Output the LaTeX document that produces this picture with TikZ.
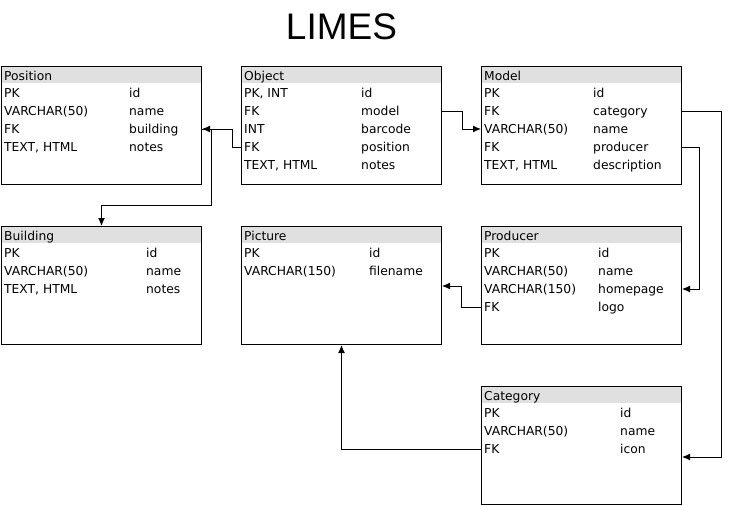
\documentclass[tikz,border=0pt]{standalone}
\usepackage{fontspec}
\setmainfont{DejaVu Sans}
\newfontfamily\titlefont{Liberation Sans}
\usetikzlibrary{arrows.meta,calc}

\tikzset{
    tablebox/.style={draw, line width=1pt, minimum width=200pt, minimum height=118pt, inner sep=0pt, anchor=north west},
    headfill/.style={fill=black!12},
    cell/.style={anchor=west, inner sep=0pt, text height=9pt, text depth=0pt, font=\fontsize{12.3}{14}\selectfont},
    fk/.style={-{Latex[length=8pt,width=7pt]}, line width=1pt},
}

% name, x, y, title, offset of second column, rows
\newcommand{\dbtable}[6]{%
    \fill[headfill] (#2,#3) rectangle ++(200,17);
    \node[tablebox] (#1) at (#2,#3) {};
    \node[cell] (#1-0) at ([xshift=3pt,yshift=-9.5pt]#1.north west) {#4};
    \foreach \ty/\fn [count=\i] in {#6} {
        \node[cell] (#1-\i) at ([xshift=3pt,yshift={-9pt-18pt*\i}]#1.north west) {\ty};
        \node[cell] (#1-\i-f) at ([xshift=#5pt,yshift={-9pt-18pt*\i}]#1.north west) {\fn};
    }
}

\begin{document}
\begin{tikzpicture}[x=1pt,y=-1pt]
    \useasboundingbox (0,0) rectangle (729,506);
    \node[font=\titlefont\fontsize{37}{40}\selectfont] (title) at (341.5,27) {LIMES};

    \dbtable{pos}{1}{66}{Position}{128}{PK/id, VARCHAR(50)/name, FK/building, {TEXT, HTML}/notes}
    \dbtable{obj}{241}{66}{Object}{120}{{PK, INT}/id, FK/model, INT/barcode, FK/position, {TEXT, HTML}/notes}
    \dbtable{mod}{481}{66}{Model}{112}{PK/id, FK/category, VARCHAR(50)/name, FK/producer, {TEXT, HTML}/description}
    \dbtable{bld}{1}{226}{Building}{145}{PK/id, VARCHAR(50)/name, {TEXT, HTML}/notes}
    \dbtable{pic}{241}{226}{Picture}{128}{PK/id, VARCHAR(150)/filename}
    \dbtable{prod}{481}{226}{Producer}{117}{PK/id, VARCHAR(50)/name, VARCHAR(150)/homepage, FK/logo}
    \dbtable{cat}{481}{386}{Category}{139}{PK/id, VARCHAR(50)/name, FK/icon}

    % foreign keys
    \draw[fk] (obj.west |- obj-4) -- ++(-9,0) |- (pos.east |- pos-3);
    \draw[fk] (pos.east |- pos-3) -- ++(9,0) -- ++(0,76) -| (bld.north);
    \draw[fk] (obj.east |- obj-2) -- ++(20,0) |- (mod.west |- mod-3);
    \draw[fk] (mod.east |- mod-2) -- ++(39,0) |- ($(cat.east |- cat-3)+(0,8)$);
    \draw[fk] (mod.east |- mod-4) -- ++(17,0) |- (prod.east |- prod-3);
    \draw[fk] (prod.west |- prod-4) -- ++(-20,0) |- ($(pic.east |- pic-2)+(0,15)$);
    \draw[fk] (cat.west |- cat-3) -| (pic.south);
\end{tikzpicture}
\end{document}
